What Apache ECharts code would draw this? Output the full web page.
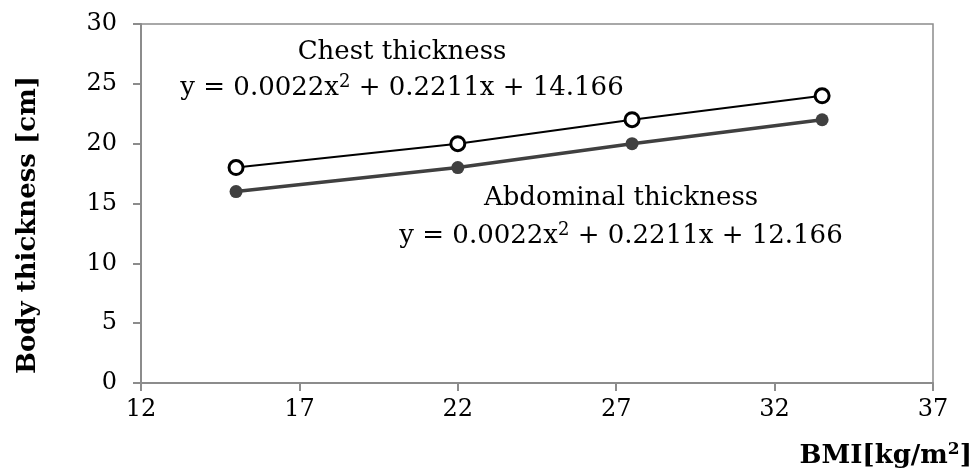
<!DOCTYPE html>
<html>
<head>
<meta charset="utf-8">
<title>Body thickness vs BMI</title>
<script src="https://cdn.jsdelivr.net/npm/echarts@6/dist/echarts.min.js"></script>
<style>
  html, body { margin: 0; padding: 0; background: #ffffff; }
  #chart { width: 975px; height: 474px; }
</style>
</head>
<body>
<div id="chart"></div>
<script>
// BMI values (x) and measured thicknesses (y, cm)
const bmi = [15, 22, 27.5, 33.5];
const chestThickness = [18, 20, 22, 24];
const abdominalThickness = [16, 18, 20, 22];

// Axis ticks
const xTicks = { min: 12, max: 37, interval: 5 };
const yTicks = { min: 0, max: 30, interval: 5 };

// Trendline annotations
const chestName = 'Chest thickness';
const chestEq = ['y = 0.0022x', '2', ' + 0.2211x + 14.166'];
const abdName = 'Abdominal thickness';
const abdEq = ['y = 0.0022x', '2', ' + 0.2211x + 12.166'];

const FONT = 'DejaVu Serif';
const AXIS_COLOR = '#8c8c8c';

function pairs(xs, ys) {
  return xs.map((x, i) => [x, ys[i]]);
}

function eqText(parts) {
  return parts[0] + '{sup|' + parts[1] + '}' + parts[2];
}

const eqRich = {
  sup: { fontFamily: FONT, fontSize: 18, verticalAlign: 'top', padding: [0, 0, 12, 0], fill: '#000' }
};

const chart = echarts.init(document.getElementById('chart'), null, { renderer: 'canvas' });

const axisCommon = {
  axisLine: { show: true, onZero: false, lineStyle: { color: AXIS_COLOR, width: 2 } },
  axisTick: { show: true, inside: false, length: 8, lineStyle: { color: AXIS_COLOR, width: 2 } },
  splitLine: { show: false },
  axisLabel: { color: '#000', fontFamily: FONT, fontSize: 24 }
};

chart.setOption({
  animation: false,
  backgroundColor: '#ffffff',
  grid: {
    left: 141, right: 42, top: 24, bottom: 91,
    show: true, borderColor: AXIS_COLOR, borderWidth: 1.5, backgroundColor: 'transparent'
  },
  xAxis: Object.assign({}, axisCommon, {
    type: 'value',
    min: xTicks.min, max: xTicks.max, interval: xTicks.interval,
    axisLabel: Object.assign({}, axisCommon.axisLabel, { margin: 15 })
  }),
  yAxis: Object.assign({}, axisCommon, {
    type: 'value',
    min: yTicks.min, max: yTicks.max, interval: yTicks.interval,
    axisLabel: Object.assign({}, axisCommon.axisLabel, { margin: 24 })
  }),
  series: [
    {
      name: 'Abdominal thickness',
      type: 'line',
      data: pairs(bmi, abdominalThickness),
      symbol: 'circle',
      symbolSize: 13,
      lineStyle: { color: '#404040', width: 3.5 },
      itemStyle: { color: '#404040', borderWidth: 0 },
      z: 2
    },
    {
      name: 'Chest thickness',
      type: 'line',
      data: pairs(bmi, chestThickness),
      symbol: 'circle',
      symbolSize: 14,
      lineStyle: { color: '#000000', width: 2 },
      itemStyle: { color: '#ffffff', borderColor: '#000000', borderWidth: 3 },
      z: 3
    }
  ],
  graphic: [
    {
      type: 'text', x: 402, y: 52,
      style: { text: chestName, fontFamily: FONT, fontSize: 26, fill: '#000', align: 'center', verticalAlign: 'middle' }
    },
    {
      type: 'text', x: 402, y: 88,
      style: { text: eqText(chestEq), fontFamily: FONT, fontSize: 26, fill: '#000', align: 'center', verticalAlign: 'middle', rich: eqRich }
    },
    {
      type: 'text', x: 621, y: 198,
      style: { text: abdName, fontFamily: FONT, fontSize: 26, fill: '#000', align: 'center', verticalAlign: 'middle' }
    },
    {
      type: 'text', x: 621, y: 236,
      style: { text: eqText(abdEq), fontFamily: FONT, fontSize: 26, fill: '#000', align: 'center', verticalAlign: 'middle', rich: eqRich }
    },
    {
      type: 'text', x: 28, y: 225, rotation: Math.PI / 2,
      style: { text: 'Body thickness [cm]', fontFamily: FONT, fontSize: 26, fontWeight: 'bold', fill: '#000', align: 'center', verticalAlign: 'middle' }
    },
    {
      type: 'text', x: 972, y: 456,
      style: {
        text: 'BMI[kg/m{sup|2}]', fontFamily: FONT, fontSize: 26, fontWeight: 'bold', fill: '#000',
        align: 'right', verticalAlign: 'middle',
        rich: { sup: { fontFamily: FONT, fontSize: 17, fontWeight: 'bold', verticalAlign: 'top', padding: [0, 0, 12, 0], fill: '#000' } }
      }
    }
  ]
});
</script>
</body>
</html>
